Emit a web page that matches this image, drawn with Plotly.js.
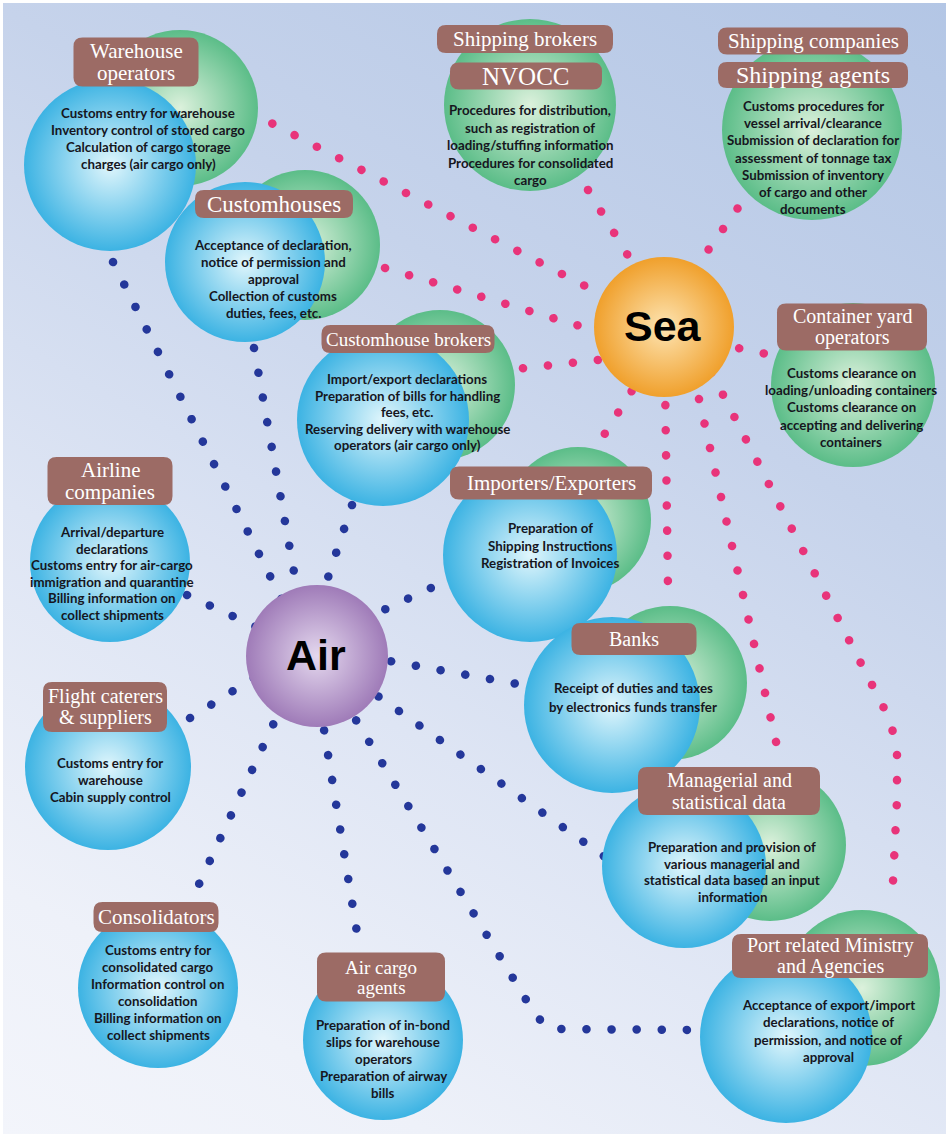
<!DOCTYPE html>
<html><head><meta charset="utf-8">
<script src="https://cdn.plot.ly/plotly-3.0.1.min.js"></script>
<style>
html,body{margin:0;padding:0;background:#fff;}
#chart{width:949px;height:1137px;background:linear-gradient(210deg,#b3c6e5 0%,#c6d3eb 33%,#dee5f4 62%,#eef1f9 85%,#f3f5fb 100%);box-shadow:inset 0 0 0 3px #fff;}
#chart .js-line{stroke-linecap:round !important;}
</style></head><body><div id="chart"></div>
<script>
// ---------- content ----------
const boxTexts = [
  "Warehouse<br>operators", "Customhouses", "Customhouse brokers",
  "Shipping brokers", "NVOCC", "Shipping companies", "Shipping agents",
  "Container yard<br>operators", "Airline<br>companies", "Flight caterers<br>& suppliers",
  "Consolidators", "Air cargo<br>agents", "Importers/Exporters", "Banks",
  "Managerial and<br>statistical data", "Port related Ministry<br>and Agencies"
];
const bodyTexts = [
  "Customs entry for warehouse<br>Inventory control of stored cargo<br>Calculation of cargo storage<br>charges (air cargo only)",
  "Acceptance of declaration,<br>notice of permission and<br>approval<br>Collection of customs<br>duties, fees, etc.",
  "Import/export declarations<br>Preparation of bills for handling<br>fees, etc.<br>Reserving delivery with warehouse<br>operators (air cargo only)",
  "Procedures for distribution,<br>such as registration of<br>loading/stuffing information<br>Procedures for consolidated<br>cargo",
  "Customs procedures for<br>vessel arrival/clearance<br>Submission of declaration for<br>assessment of tonnage tax<br>Submission of inventory<br>of cargo and other<br>documents",
  "Customs clearance on<br>loading/unloading containers<br>Customs clearance on<br>accepting and delivering<br>containers",
  "Arrival/departure<br>declarations<br>Customs entry for air-cargo<br>immigration and quarantine<br>Billing information on<br>collect shipments",
  "Customs entry for<br>warehouse<br>Cabin supply control",
  "Customs entry for<br>consolidated cargo<br>Information control on<br>consolidation<br>Billing information on<br>collect shipments",
  "Preparation of in-bond<br>slips for warehouse<br>operators<br>Preparation of airway<br>bills",
  "Preparation of<br>Shipping Instructions<br>Registration of Invoices",
  "Receipt of duties and taxes<br>by electronics funds transfer",
  "Preparation and provision of<br>various managerial and<br>statistical data based an input<br>information",
  "Acceptance of export/import<br>declarations, notice of<br>permission, and notice of<br>approval"
];
const hubNames = ["Air", "Sea"];

// ---------- layout geometry (pixels) ----------
// label boxes: cx, cy, w, h, fontSize, lineGap
const boxGeom = [
  [136,62,125,49,21,22],[274,204,158,28,23,0],[408,339,173,28,19,0],
  [525,39,176,28,21,0],[526,76,152,27,25,0],[813,41,190,27,21,0],[813,75,190,26,24,0],
  [852,327,150,47,20,21],[110,481,125,48,21,22],[105,707,124,50,20,21],
  [156,917,125,30,21,0],[381,977,128,49,19,20],[551,483,202,33,21,0],[634,639,125,32,20,0],
  [729,791,182,48,20,22],[830,956,196,44,20,21]
];
// body text: cx, first line y, line gap
const bodyGeom = [
  [148,113,17],[273,245,17],[407,379,16.5],[530,110,17.5],[813,106,17.2],[851,373,17.2],
  [112,532,16.6],[110,763,17],[158,950,17],[383,1025,17],[550,528,17.5],[633,688,19],
  [732,847,16.7],[828,1005,17.3]
];
const blueSpheres = [
  [110,165,86],[245,262,80],[383,420,86],[110,562,80],[108,767,83],[158,988,80],
  [383,1040,80],[530,555,87],[612,705,88],[684,866,82],[786,1037,86]
];
const greenSpheres = [
  [180,108,78],[305,245,75],[440,385,75],[530,105,86],[812,130,90],[853,385,82],
  [578,520,73],[670,683,77],[770,845,76],[862,988,78]
];
const hubGeom = [[317,656,71],[664,327,70]];
const airLinks = [
  [[113,262],[313,662]], [[254,348],[309,656]], [[352,505],[302,656]],
  [[187,595],[317,655]], [[190,718],[317,638]], [[305,656],[193,897]],
  [[312,656],[359,945]], [[317,656],[536,1016],[550,1029],[705,1030]],
  [[317,653],[612,862]], [[317,648],[562,692]], [[317,641],[448,580]]
];
const seaLinks = [
  [[250,112],[664,327]], [[385,268],[620,338]], [[498,371],[625,357]],
  [[588,190],[655,300]], [[752,188],[680,290]], [[690,338],[776,356]],
  [[645,370],[597,446]], [[665,380],[668,588]], [[688,350],[781,764]],
  [[700,350],[888,716],[897,745],[897,800],[892,902]]
];

// ---------- styles ----------
const airDot = "#24379a", seaDot = "#e8347a";
const blueEdge = "#3cb3e3", blueCenter = "#e0f6fc";
const greenEdge = "#5bbd88", greenCenter = "#dcf1dc";
const hubEdge = ["#9f7bb8", "#f0a02c"], hubCenter = ["#e4d8ee", "#fde4b2"];
const boxColor = "#9c6b65";
const bodyFont = "Lato, 'Open Sans', sans-serif";
const labelFont = "'Liberation Serif', 'DejaVu Serif', serif";

const traces = [];
function linkTrace(pts, color) {
  return {type:"scatter", mode:"lines", x:pts.map(p=>p[0]), y:pts.map(p=>p[1]),
    line:{color:color, width:8.5, dash:"0.1px,25px"}, hoverinfo:"skip", showlegend:false};
}
airLinks.forEach(l => traces.push(linkTrace(l, airDot)));
seaLinks.forEach(l => traces.push(linkTrace(l, seaDot)));

function sphereTrace(list, edge, center) {
  return {type:"scatter", mode:"markers", x:list.map(s=>s[0]), y:list.map(s=>s[1]),
    marker:{size:list.map(s=>2*s[2]), sizemode:"diameter", color:edge, opacity:1,
      line:{width:0}, gradient:{type:"radial", color:center}},
    hoverinfo:"skip", showlegend:false};
}
traces.push(sphereTrace(greenSpheres, greenEdge, greenCenter));
traces.push(sphereTrace(blueSpheres, blueEdge, blueCenter));
hubGeom.forEach((h, i) => traces.push(sphereTrace([h], hubEdge[i], hubCenter[i])));

// label boxes (rounded rectangles)
const shapes = boxGeom.map(b => {
  const [cx, cy, w, h] = b, r = Math.min(9, h/2 - 2);
  const x0 = cx - w/2, x1 = cx + w/2, y0 = cy - h/2, y1 = cy + h/2;
  const path = `M${x0+r},${y0} L${x1-r},${y0} Q${x1},${y0} ${x1},${y0+r} L${x1},${y1-r} Q${x1},${y1} ${x1-r},${y1} L${x0+r},${y1} Q${x0},${y1} ${x0},${y1-r} L${x0},${y0+r} Q${x0},${y0} ${x0+r},${y0} Z`;
  return {type:"path", xref:"x", yref:"y", path:path, fillcolor:boxColor, line:{width:0}, layer:"above"};
});

const annotations = [];
boxTexts.forEach((t, i) => {
  const [cx, cy, w, h, fs, gap] = boxGeom[i];
  const lines = t.split("<br>");
  lines.forEach((ln, j) => {
    annotations.push({x:cx, y:cy + (j - (lines.length-1)/2)*gap, xref:"x", yref:"y", text:ln,
      showarrow:false, xanchor:"center", yanchor:"middle", borderpad:0,
      font:{family:labelFont, size:fs, color:"#ffffff"}});
  });
});
bodyTexts.forEach((t, i) => {
  const [cx, y0, gap] = bodyGeom[i];
  const lines = t.split("<br>");
  lines.forEach((ln, j) => {
    annotations.push({x:cx, y:y0 + j*gap, xref:"x", yref:"y", text:ln,
      showarrow:false, xanchor:"center", yanchor:"middle", borderpad:0,
      font:{family:bodyFont, size:13.3, weight:700, color:"#16161e"}});
  });
});
hubNames.forEach((n, i) => {
  annotations.push({x:hubGeom[i][0] - 1, y:hubGeom[i][1] - 1, xref:"x", yref:"y", text:n,
    showarrow:false, xanchor:"center", yanchor:"middle",
    font:{family:"'Liberation Sans', Arial, sans-serif", size:43, weight:700, color:"#000000"}});
});

const layout = {
  width:949, height:1137, margin:{l:0, r:0, t:0, b:0, pad:0},
  paper_bgcolor:"rgba(0,0,0,0)", plot_bgcolor:"rgba(0,0,0,0)",
  showlegend:false, hovermode:false, dragmode:false,
  xaxis:{range:[0,949], visible:false, fixedrange:true},
  yaxis:{range:[1137,0], visible:false, fixedrange:true},
  shapes:shapes, annotations:annotations
};
Plotly.newPlot("chart", traces, layout, {displayModeBar:false, staticPlot:true});
</script>
</body></html>
